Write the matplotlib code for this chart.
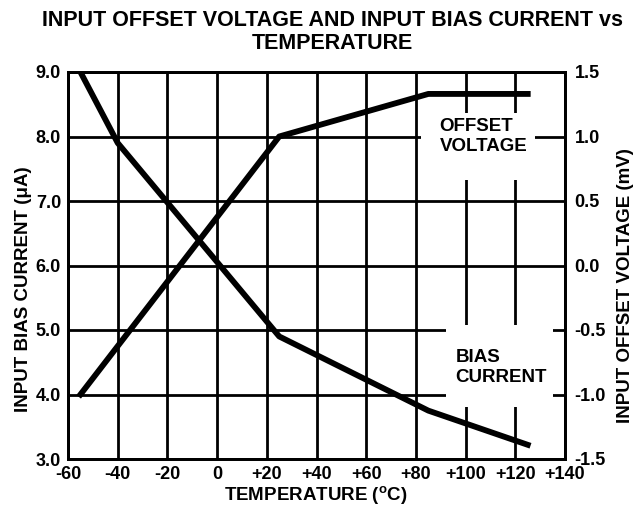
import matplotlib.pyplot as plt
from matplotlib.patches import Rectangle

plt.rcParams['font.family'] = ['Liberation Sans', 'DejaVu Sans']
plt.rcParams['font.weight'] = 'bold'
plt.rcParams['mathtext.fontset'] = 'custom'
plt.rcParams['mathtext.rm'] = 'Liberation Sans:bold'
plt.rcParams['mathtext.bf'] = 'Liberation Sans:bold'

# donnees
temp_bias = [-55, -40, 25, 85, 125]
bias_current = [9.0, 7.9, 4.9, 3.75, 3.22]
temp_offset = [-55, 25, 85, 125]
offset_voltage = [-1.0, 1.0, 1.33, 1.33]

x_ticks = [-60, -40, -20, 0, 20, 40, 60, 80, 100, 120, 140]
x_labels = ['-60', '-40', '-20', '0', '+20', '+40', '+60', '+80', '+100', '+120', '+140']
left_ticks = [3.0, 4.0, 5.0, 6.0, 7.0, 8.0, 9.0]
right_ticks = [-1.5, -1.0, -0.5, 0.0, 0.5, 1.0, 1.5]

fs = 13
fs_lab = 13.5

fig = plt.figure(figsize=(6.36, 5.09), dpi=100)
ax = fig.add_axes([68/636, 1-459/509, (565-68)/636, (459-72)/509])

ax.set_xlim(-60, 140)
ax.set_ylim(3.0, 9.0)
ax.set_xticks(x_ticks)
ax.set_xticklabels(x_labels, fontsize=fs, fontweight='bold')
ax.set_yticks(left_ticks)
ax.set_yticklabels(['%.1f' % v for v in left_ticks], fontsize=fs, fontweight='bold')
ax.tick_params(axis='x', length=0, pad=5)
ax.tick_params(axis='y', length=0, pad=5)
ax.set_axisbelow(True)
ax.grid(True, color='black', linewidth=2.0)
for s in ax.spines.values():
    s.set_linewidth(2.0)

# cases blanches derriere les etiquettes
ax.add_patch(Rectangle((82, 7.33), 46, 1.04, facecolor='white', edgecolor='none', zorder=1))
ax.add_patch(Rectangle((92, 3.8), 43, 1.28, facecolor='white', edgecolor='none', zorder=1))

ax.plot(temp_bias, bias_current, color='black', linewidth=4.2, zorder=3)

ax2 = ax.twinx()
ax2.set_ylim(-1.5, 1.5)
ax2.set_yticks(right_ticks)
ax2.set_yticklabels(['%.1f' % v for v in right_ticks], fontsize=fs, fontweight='bold')
ax2.tick_params(length=0, pad=7)
for s in ax2.spines.values():
    s.set_linewidth(2.0)
ax2.plot(temp_offset, offset_voltage, color='black', linewidth=4.2, zorder=3)

ax.text(89.5, 8.0, 'OFFSET\nVOLTAGE', fontsize=fs_lab, fontweight='bold', va='center', ha='left',
        linespacing=1.2, zorder=4)
ax.text(96, 4.42, 'BIAS\nCURRENT', fontsize=fs_lab, fontweight='bold', va='center', ha='left',
        linespacing=1.2, zorder=4)

fig.text(316/636, 1-496/509, r'TEMPERATURE ($^{\mathbf{o}}$C)', fontsize=fs_lab,
         fontweight='bold', ha='center', va='center')
fig.text(24/636, 1-289/509, 'INPUT BIAS CURRENT (μA)', rotation=90, fontsize=fs_lab,
         fontweight='bold', ha='center', va='center')
fig.text(626/636, 1-286/509, 'INPUT OFFSET VOLTAGE (mV)', rotation=90, fontsize=fs_lab,
         fontweight='bold', ha='center', va='center')
fig.text(332/636, 1-32/509, 'INPUT OFFSET VOLTAGE AND INPUT BIAS CURRENT vs\nTEMPERATURE',
         fontsize=15.5, fontweight='bold', ha='center', va='center', linespacing=1.1)

fig.savefig('out.png', dpi=100)
